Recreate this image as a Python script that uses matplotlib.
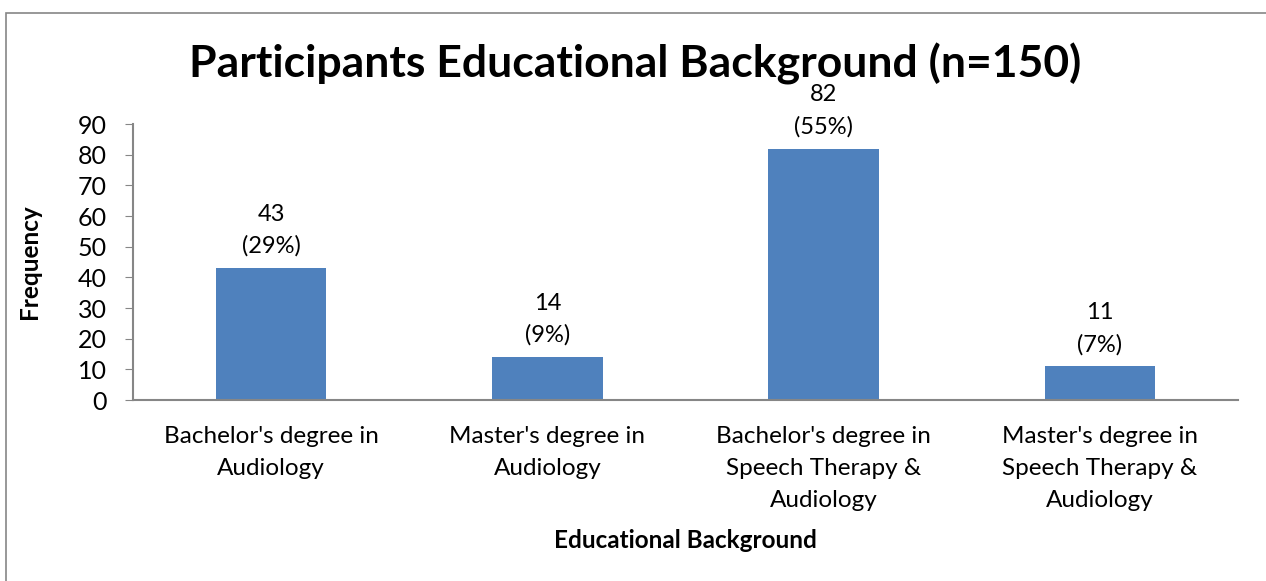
import matplotlib.pyplot as plt
from matplotlib.patches import Rectangle

plt.rcParams['font.family'] = ['Lato', 'DejaVu Sans']

# data
categories = ["Bachelor's degree in\nAudiology",
              "Master's degree in\nAudiology",
              "Bachelor's degree in\nSpeech Therapy &\nAudiology",
              "Master's degree in\nSpeech Therapy &\nAudiology"]
counts = [43, 14, 82, 11]
percents = [29, 9, 55, 7]

fig = plt.figure(figsize=(12.66, 5.81), dpi=100)
ax = fig.add_axes([0.105, 0.3115, 0.873, 0.475])

# outer chart frame (only top/left visible in the original crop)
fig.patches.append(Rectangle((6 / 1266, -0.1), 1.2, (1 - 13 / 581) + 0.1,
                             transform=fig.transFigure, fill=False,
                             edgecolor='#868686', linewidth=1.2))

x = list(range(len(categories)))
ax.bar(x, counts, width=0.4, color='#4F81BD')
ax.set_xlim(-0.5, len(categories) - 0.5)
ax.set_ylim(0, 90)
ax.set_yticks(range(0, 91, 10))

for i in x:
    ax.annotate(f"{counts[i]}\n({percents[i]}%)", (i, counts[i]),
                xytext=(0, 8), textcoords='offset points',
                ha='center', va='bottom', fontsize=17, linespacing=1.6)

ax.set_xticks(x)
ax.set_xticklabels(categories, fontsize=17.5, linespacing=1.63)
ax.tick_params(axis='x', length=0, pad=19)
ax.tick_params(axis='y', labelsize=18, length=6, color='#868686', pad=13)

for s in ['top', 'right']:
    ax.spines[s].set_visible(False)
for s in ['left', 'bottom']:
    ax.spines[s].set_color('#868686')
    ax.spines[s].set_linewidth(1.5)

fig.text(30 / 1266, 1 - 262 / 581, 'Frequency', rotation=90,
         ha='center', va='center', fontsize=17.5, fontweight='bold')
fig.text(685 / 1266, 1 - 540 / 581, 'Educational Background',
         ha='center', va='center', fontsize=17.5, fontweight='bold')

fig.text(0.502, 1 - 64 / 581, 'Participants Educational Background (n=150)',
         ha='center', va='center', fontsize=32, fontweight='bold')

fig.savefig('out.png', dpi=100)
